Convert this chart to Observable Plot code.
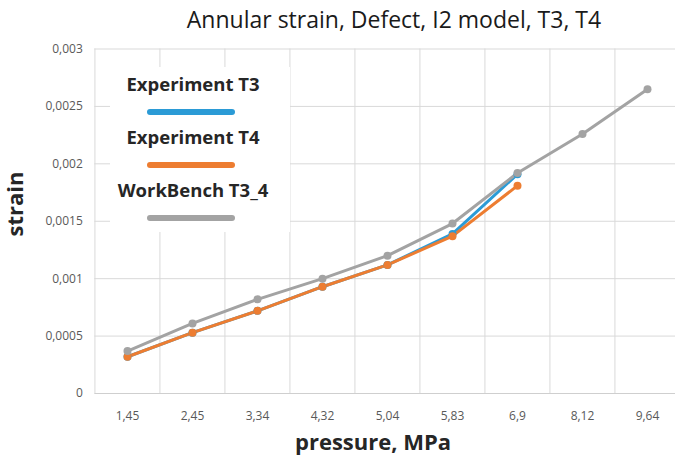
<!DOCTYPE html>
<html>
<head>
<meta charset="utf-8">
<script src="https://cdn.jsdelivr.net/npm/d3@7"></script>
<script src="https://cdn.jsdelivr.net/npm/@observablehq/plot@0.6"></script>
<style>
  html, body { margin: 0; padding: 0; background: #fff; overflow: hidden; }
  #chart { position: relative; width: 675px; height: 463px; font-family: "Open Sans", Lato, sans-serif; }
  #chart svg { position: absolute; left: 0; top: 0; }
  .title { position: absolute; left: 394px; top: 19px; transform: translate(-50%, -50%); font-size: 23px; color: #1a1a1a; white-space: nowrap; }
  .ylabel { position: absolute; left: 14px; top: 204px; line-height: 1; transform: translate(-50%, -50%) rotate(-90deg); font-size: 22px; font-weight: 700; color: #262626; white-space: nowrap; }
  .xlabel { position: absolute; left: 373px; top: 441px; transform: translate(-50%, -50%); font-size: 22px; font-weight: 700; color: #262626; white-space: nowrap; }
  .legend { position: absolute; left: 110px; top: 67px; width: 180px; height: 165px; background: #fff; }
  .legend .name { position: absolute; left: 0; width: 166px; text-align: center; transform: translateY(-50%); font-size: 18.5px; font-weight: 700; color: #262626; white-space: nowrap; }
  .legend .swatch { position: absolute; left: 37px; width: 88px; height: 6px; border-radius: 3px; transform: translateY(-50%); }
</style>
</head>
<body>
<div id="chart"></div>
<script>
// Pressure steps (category axis) and measured / simulated annular strain
const pressure = ["1,45", "2,45", "3,34", "4,32", "5,04", "5,83", "6,9", "8,12", "9,64"];
const experimentT3 = [0.00032, 0.00053, 0.00072, 0.00093, 0.00112, 0.00139, 0.00191];
const experimentT4 = [0.00032, 0.00053, 0.00072, 0.00093, 0.00112, 0.00137, 0.00181];
const workbenchT34 = [0.00037, 0.00061, 0.00082, 0.00100, 0.00120, 0.00148, 0.00192, 0.00226, 0.00265];

const seriesNames = ["Experiment T3", "Experiment T4", "WorkBench T3_4"];
const seriesColors = ["#2b9bd6", "#ed7d31", "#a3a3a3"];

const yTicks = [0, 0.0005, 0.001, 0.0015, 0.002, 0.0025, 0.003];
const yTickLabels = ["0", "0,0005", "0,001", "0,0015", "0,002", "0,0025", "0,003"];

const titleText = "Annular strain, Defect, I2 model, T3, T4";
const yLabelText = "strain";
const xLabelText = "pressure, MPa";

// long-format table for the line and dot marks
const series = [experimentT3, experimentT4, workbenchT34];
const rows = series.flatMap((vals, s) =>
  vals.map((v, i) => ({series: seriesNames[s], pressure: pressure[i], strain: v}))
);

const width = 675, height = 463;
const plotLeft = 94.3, plotRight = 680.6;   // category area runs past the right edge
const step = (plotRight - plotLeft) / pressure.length;

const chart = Plot.plot({
  width, height,
  marginLeft: plotLeft, marginRight: 0, marginTop: 48.5, marginBottom: 70,
  style: {background: "#fff", fontFamily: "'Open Sans', Lato, sans-serif"},
  x: {type: "point", domain: pressure, range: [plotLeft, plotRight], padding: 0.5},
  y: {domain: [0, 0.003]},
  color: {domain: seriesNames, range: seriesColors},
  marks: [
    // horizontal gridlines
    Plot.ruleY(yTicks.slice(1), {stroke: "#d9d9d9", strokeWidth: 1}),
    // vertical gridlines between categories
    Plot.ruleX(pressure, {x: d => d, dx: -step / 2, y1: 0, y2: 0.003, stroke: "#d9d9d9", strokeWidth: 1}),
    // category axis line
    Plot.ruleY([0], {stroke: "#cfcfcf", strokeWidth: 1}),
    Plot.axisY({ticks: yTicks, tickFormat: d => yTickLabels[yTicks.indexOf(d)], tickSize: 0, tickPadding: 12,
      fontSize: 12, color: "#595959", label: null}),
    Plot.axisX({tickSize: 0, tickPadding: 18, fontSize: 12, color: "#595959", label: null}),
    Plot.line(rows, {x: "pressure", y: "strain", z: "series", stroke: "series", strokeWidth: 3,
      strokeLinejoin: "round", strokeLinecap: "round"}),
    Plot.dot(rows, {x: "pressure", y: "strain", fill: "series", r: 4, stroke: null})
  ]
});

const root = document.getElementById("chart");
root.appendChild(chart);

const title = document.createElement("div");
title.className = "title";
title.textContent = titleText;
root.appendChild(title);

const yl = document.createElement("div");
yl.className = "ylabel";
yl.textContent = yLabelText;
root.appendChild(yl);

const xl = document.createElement("div");
xl.className = "xlabel";
xl.textContent = xLabelText;
root.appendChild(xl);

// legend box over the upper-left of the plot
const legend = document.createElement("div");
legend.className = "legend";
seriesNames.forEach((name, i) => {
  const t = document.createElement("div");
  t.className = "name";
  t.style.top = (16 + i * 53) + "px";
  t.textContent = name;
  legend.appendChild(t);
  const s = document.createElement("div");
  s.className = "swatch";
  s.style.top = (45 + i * 53) + "px";
  s.style.background = seriesColors[i];
  legend.appendChild(s);
});
root.appendChild(legend);
</script>
</body>
</html>
